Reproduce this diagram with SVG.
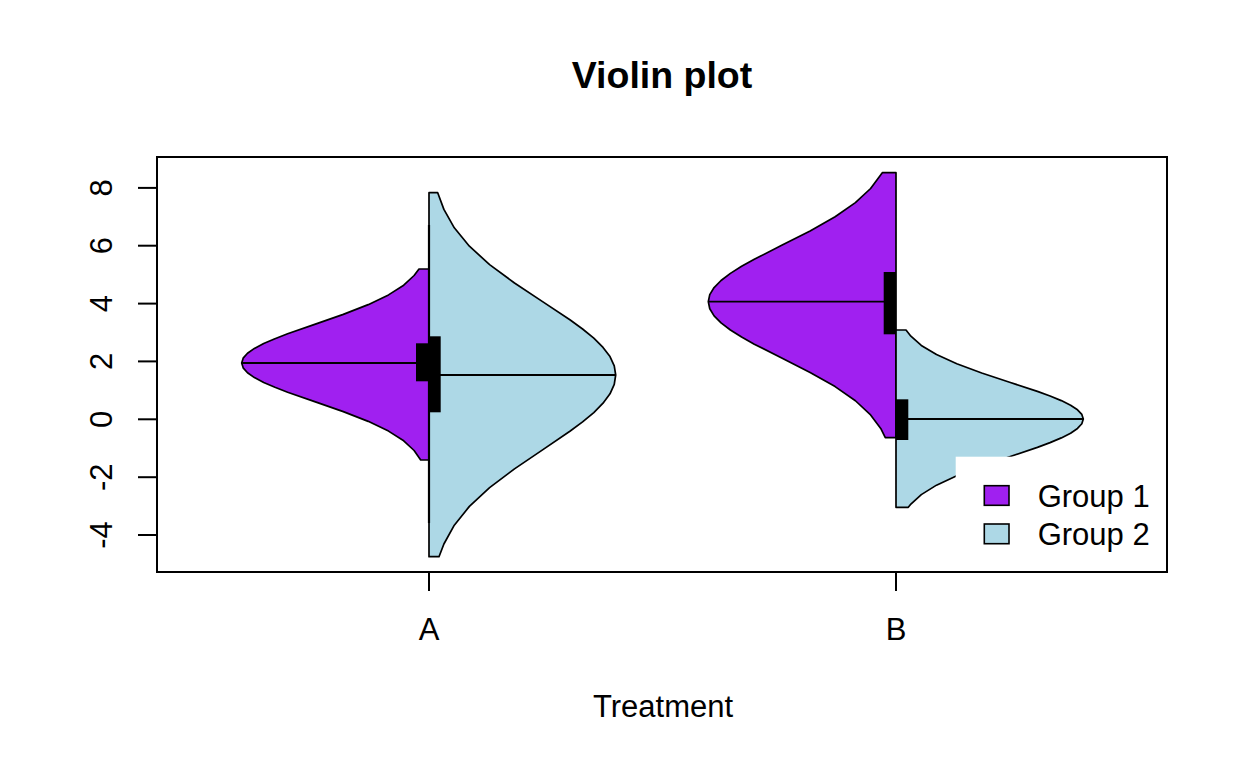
<svg xmlns="http://www.w3.org/2000/svg" width="1248" height="768" viewBox="0 0 1248 768">
<style>
text{font-family:"Liberation Sans",Arial,Helvetica,sans-serif;fill:#000}
.lab{font-size:31px}
.title{font-size:37.5px;font-weight:bold}
.g1{fill:#A020F0;stroke:#000;stroke-width:1.7;stroke-linejoin:round}
.g2{fill:#ADD8E6;stroke:#000;stroke-width:1.7;stroke-linejoin:round}
.med{stroke:#000;stroke-width:1.8}
.box{fill:#000}
.tick{stroke:#000;stroke-width:2}
.whisk{stroke:#000;stroke-width:2.2}
</style>
<rect width="1248" height="768" fill="#fff"/>
<text class="title" x="662" y="87.5" text-anchor="middle">Violin plot</text>

<g id="violin-A-group1">
<path class="g1" d="M429,269 L419,269 L414.1,275.5 L403.7,285.2 L388.5,294.9 L368.2,304.65 L343.3,314.4 L315.4,324.1 L287.6,333.8 L274.93,338.69 L263.7,343.55 L254.42,348.41 L247.5,353.3 L243.16,358.14 L241.7,363 L243.16,367.86 L247.5,372.7 L254.42,377.59 L263.7,382.45 L274.93,387.31 L287.6,392.2 L315.4,401.9 L343.3,411.6 L368.2,421.35 L388.5,431.1 L403.7,440.8 L414.1,450.5 L420.7,460 L429,460 Z"/>
<line class="med" x1="241.7" y1="363" x2="429" y2="363"/>
<rect class="box" x="416" y="343.3" width="13" height="38"/>
</g>

<g id="violin-A-group2">
<path class="g2" d="M429,192.7 L437.7,192.7 L443.9,209.4 L454.3,227.8 L469.4,246.2 L489.6,264.6 L514.5,283.0 L542.2,301.4 L569.9,319.8 L582.58,329.0 L593.8,338.2 L603.02,347.4 L610.0,356.6 L614.25,365.8 L615.7,375 L614.25,384.39 L610.0,393.8 L603.02,403.16 L593.8,412.55 L582.58,421.94 L569.9,431.3 L542.2,450.1 L514.5,468.9 L489.6,487.65 L469.4,506.4 L454.3,525.2 L443.9,544.0 L439,556.7 L429,556.7 Z"/>
<line class="whisk" x1="429" y1="225" x2="429" y2="523"/>
<line class="med" x1="429" y1="375" x2="615.7" y2="375"/>
<rect class="box" x="429" y="336.3" width="11.7" height="76"/>
</g>

<g id="violin-B-group1">
<path class="g1" d="M896,172.7 L882.3,172.7 L870.6,188.5 L855.4,202.65 L835.1,216.8 L810.1,230.95 L782.2,245.1 L754.3,259.25 L741.6,266.33 L730.4,273.4 L721.05,280.48 L714.1,287.55 L709.76,294.63 L708.3,301.7 L709.76,308.78 L714.1,315.85 L721.05,322.93 L730.4,330.0 L741.6,337.08 L754.3,344.15 L782.2,358.3 L810.1,372.45 L835.1,386.6 L855.4,400.75 L870.6,414.9 L881.1,429.05 L885.3,437.7 L896,437.7 Z"/>
<line class="med" x1="708.3" y1="301.7" x2="896" y2="301.7"/>
<rect class="box" x="883.7" y="272" width="12.3" height="62.3"/>
</g>

<g id="violin-B-group2">
<path class="g2" d="M896,330 L906,330 L910.9,336.2 L921.3,345.4 L936.5,354.6 L956.8,363.8 L981.7,373.0 L1009.6,382.2 L1037.4,391.4 L1050.07,396.0 L1061.3,400.6 L1070.58,405.2 L1077.5,409.8 L1081.84,414.4 L1083.3,419 L1081.84,423.73 L1077.5,428.45 L1070.58,433.18 L1061.3,437.9 L1050.07,442.63 L1037.4,447.35 L1009.6,456.8 L981.7,466.25 L956.8,475.7 L936.5,485.15 L921.3,494.6 L910.9,504.05 L908.3,507.3 L896,507.3 Z"/>
<line class="med" x1="896" y1="419" x2="1083.3" y2="419"/>
<rect class="box" x="896" y="399.3" width="12.3" height="40.7"/>
</g>

<g id="legend">
<rect x="955.7" y="456.7" width="211.3" height="115.3" fill="#fff"/>
<rect x="984.3" y="485.7" width="24.7" height="19.6" fill="#A020F0" stroke="#000" stroke-width="1.6"/>
<rect x="984.3" y="524" width="24.7" height="19.7" fill="#ADD8E6" stroke="#000" stroke-width="1.6"/>
<text class="lab" x="1037.7" y="506.7">Group 1</text>
<text class="lab" x="1037.7" y="545">Group 2</text>
</g>

<g id="axes">
<rect x="157" y="157" width="1010" height="415" fill="none" stroke="#000" stroke-width="2"/>
<line class="tick" x1="138" y1="187.9" x2="157" y2="187.9"/>
<line class="tick" x1="138" y1="245.7" x2="157" y2="245.7"/>
<line class="tick" x1="138" y1="303.6" x2="157" y2="303.6"/>
<line class="tick" x1="138" y1="361.4" x2="157" y2="361.4"/>
<line class="tick" x1="138" y1="419.3" x2="157" y2="419.3"/>
<line class="tick" x1="138" y1="477.2" x2="157" y2="477.2"/>
<line class="tick" x1="138" y1="535" x2="157" y2="535"/>
<text class="lab" transform="translate(111.5,187.9) rotate(-90)" text-anchor="middle">8</text>
<text class="lab" transform="translate(111.5,245.7) rotate(-90)" text-anchor="middle">6</text>
<text class="lab" transform="translate(111.5,303.6) rotate(-90)" text-anchor="middle">4</text>
<text class="lab" transform="translate(111.5,361.4) rotate(-90)" text-anchor="middle">2</text>
<text class="lab" transform="translate(111.5,419.3) rotate(-90)" text-anchor="middle">0</text>
<text class="lab" transform="translate(111.5,477.2) rotate(-90)" text-anchor="middle">-2</text>
<text class="lab" transform="translate(111.5,535) rotate(-90)" text-anchor="middle">-4</text>
<line class="tick" x1="429" y1="572" x2="429" y2="591"/>
<line class="tick" x1="896" y1="572" x2="896" y2="591"/>
<text class="lab" x="429" y="640.3" text-anchor="middle">A</text>
<text class="lab" x="896" y="640.3" text-anchor="middle">B</text>
<text class="lab" x="663" y="717.3" text-anchor="middle">Treatment</text>
</g>
</svg>
